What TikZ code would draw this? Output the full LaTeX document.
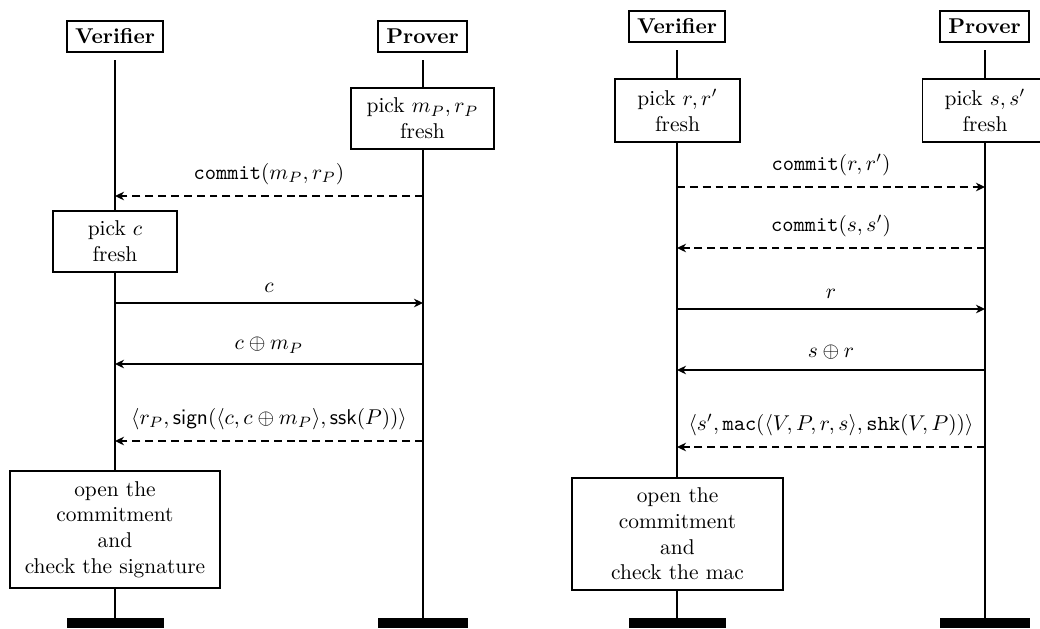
\documentclass[tikz,border=0pt]{standalone}
\usetikzlibrary{arrows.meta}
\def\px{0.467pt}
\begin{document}
\begin{tikzpicture}[x=0.467pt,y=-0.467pt,
  hdr/.style={draw, line width=0.5pt, font=\bfseries, minimum width=#1*\px, minimum height=31*\px, inner sep=0pt},
  act/.style n args={2}{draw, line width=0.5pt, fill=white, align=center, minimum width=#1*\px, minimum height=#2*\px, inner sep=0pt},
  life/.style={line width=0.9pt},
  msg/.style={line width=0.6pt, -{Stealth[length=4.2pt, width=4pt, inset=1.3pt]}},
  dmsg/.style={msg, dash pattern=on 3.7pt off 2.3pt},
  lbl/.style={above=1.5pt, midway},
  bar/.style={fill=black, minimum width=#1*\px, minimum height=10*\px, inner sep=0pt, outer sep=0pt},
]
\useasboundingbox (0,0) rectangle (1040,628);
\clip (0,0) rectangle (1040,628);

% ---------------- left diagram ----------------
\node[hdr=96] (V1) at (115,36.5) {Verifier};
\node[hdr=89] (P1) at (422.5,36.5) {Prover};
\coordinate (V1top) at (115,60);
\coordinate (V1bot) at (115,618);
\coordinate (P1top) at (423,60);
\coordinate (P1bot) at (423,618);
\draw[life] (V1top) -- (V1bot);
\draw[life] (P1top) -- (P1bot);

\node[act={143}{61}] (pickP) at (422.5,118.5) {pick $m_P, r_P$\\fresh};
\node[act={124}{61}] (pickV) at (115,241.5) {pick $c$\\fresh};
\node[act={210}{117}] (openV) at (115,529.5) {open the\\commitment\\and\\check the signature};

\coordinate (a1p) at (423,196); \coordinate (a1v) at (115,196);
\coordinate (a2p) at (423,303); \coordinate (a2v) at (115,303);
\coordinate (a3p) at (423,364); \coordinate (a3v) at (115,364);
\coordinate (a4p) at (423,441); \coordinate (a4v) at (115,441);
\draw[dmsg] (a1p) -- node[lbl] {\texttt{commit}$(m_P, r_P)$} (a1v);
\draw[msg] (a2v) -- node[lbl] {$c$} (a2p);
\draw[msg] (a3p) -- node[lbl] {$c \oplus m_P$} (a3v);
\draw[dmsg] (a4p) -- node[lbl] {$\langle r_P, \mathsf{sign}(\langle c, c\oplus m_P\rangle, \mathsf{ssk}(P))\rangle$} (a4v);

\node[bar=97] (V1bar) at (115.5,623) {};
\node[bar=90] (P1bar) at (423,623) {};

% ---------------- right diagram ----------------
\node[hdr=96] (V2) at (677,26.5) {Verifier};
\node[hdr=89] (P2) at (984.5,26.5) {Prover};
\coordinate (V2top) at (677,50);
\coordinate (V2bot) at (677,618);
\coordinate (P2top) at (985,50);
\coordinate (P2bot) at (985,618);
\draw[life] (V2top) -- (V2bot);
\draw[life] (P2top) -- (P2bot);

\node[act={125}{63}] (pickV2) at (677.5,110.5) {pick $r, r'$\\fresh};
\node[act={125}{63}] (pickP2) at (985,110.5) {pick $s, s'$\\fresh};
\node[act={211}{112}] (openV2) at (677.5,534) {open the\\commitment\\and\\check the mac};

\coordinate (b1v) at (677,187); \coordinate (b1p) at (985,187);
\coordinate (b2v) at (677,248); \coordinate (b2p) at (985,248);
\coordinate (b3v) at (677,309); \coordinate (b3p) at (985,309);
\coordinate (b4v) at (677,370); \coordinate (b4p) at (985,370);
\coordinate (b5v) at (677,447); \coordinate (b5p) at (985,447);
\draw[dmsg] (b1v) -- node[lbl] {\texttt{commit}$(r, r')$} (b1p);
\draw[dmsg] (b2p) -- node[lbl] {\texttt{commit}$(s, s')$} (b2v);
\draw[msg] (b3v) -- node[lbl] {$r$} (b3p);
\draw[msg] (b4p) -- node[lbl] {$s \oplus r$} (b4v);
\draw[dmsg] (b5p) -- node[lbl] {$\langle s', \mathtt{mac}(\langle V, P, r, s\rangle, \mathtt{shk}(V, P))\rangle$} (b5v);

\node[bar=97] (V2bar) at (677.5,623) {};
\node[bar=90] (P2bar) at (985,623) {};
\end{tikzpicture}
\end{document}
